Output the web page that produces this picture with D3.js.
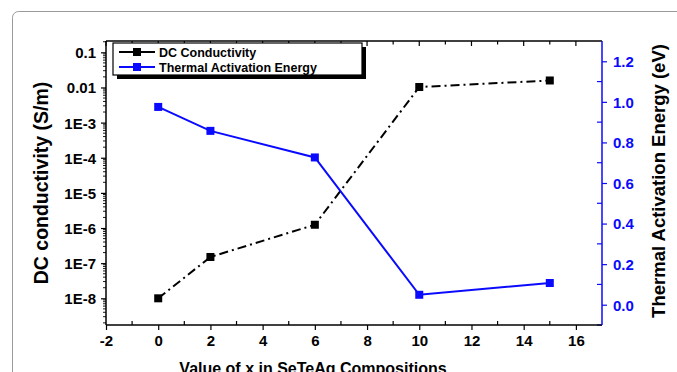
<!DOCTYPE html>
<html>
<head>
<meta charset="utf-8">
<script src="https://cdn.jsdelivr.net/npm/d3@7/dist/d3.min.js"></script>
<style>
  html, body { margin: 0; padding: 0; background: #fff; }
  svg { display: block; font-family: "Liberation Sans", Arial, sans-serif; }
</style>
</head>
<body>
<svg id="chart" width="677" height="372"></svg>
<script>
// Composition x in SeTeAg
const xValues = [0, 2, 6, 10, 15];
// DC conductivity (S/m)
const dcConductivity = [1.0e-8, 1.5e-7, 1.24e-6, 1.03e-2, 1.58e-2];
// Thermal activation energy (eV)
const activationEnergy = [0.975, 0.857, 0.726, 0.049, 0.107];

const xTicks = [-2, 0, 2, 4, 6, 8, 10, 12, 14, 16];
const leftTicks = [1e-8, 1e-7, 1e-6, 1e-5, 1e-4, 1e-3, 1e-2, 1e-1];
const leftTickLabels = ["1E-8", "1E-7", "1E-6", "1E-5", "1E-4", "1E-3", "0.01", "0.1"];
const rightTicks = [0.0, 0.2, 0.4, 0.6, 0.8, 1.0, 1.2];
const seriesNames = ["DC Conductivity", "Thermal Activation Energy"];

const svg = d3.select("#chart");
const blue = "#0a0aff";
const plot = { left: 106, right: 602, top: 41, bottom: 325 };

// Outer figure frame
svg.append("rect")
  .attr("x", 12.5).attr("y", 11.5)
  .attr("width", 700).attr("height", 400)
  .attr("rx", 6)
  .attr("fill", "none").attr("stroke", "#9a9a9a").attr("stroke-width", 1);

const x = d3.scaleLinear().domain([-2, 17]).range([plot.left, plot.right]);
const yLog = d3.scaleLog().domain([1.74e-9, 0.21]).range([plot.bottom, plot.top]);
const yLin = d3.scaleLinear().domain([-0.1, 1.3]).range([plot.bottom, plot.top]);

// Minor tick values
const xMinor = d3.range(-1, 17, 2);
const leftMinor = [];
for (let e = -9; e <= -1; e++) {
  for (let m = 2; m <= 9; m++) {
    const v = m * Math.pow(10, e);
    if (v >= yLog.domain()[0] && v <= yLog.domain()[1]) leftMinor.push(v);
  }
}
const rightMinor = [-0.1, 0.1, 0.3, 0.5, 0.7, 0.9, 1.1];

function styleAxis(g, color) {
  g.select(".domain").remove();
  g.selectAll("line").attr("stroke", color).attr("stroke-width", 1.2);
  g.selectAll("text")
    .attr("fill", color)
    .style("font-size", "15px")
    .style("font-weight", "bold");
}

// Bottom axis: major ticks outward, minor inward
const gBottom = svg.append("g").attr("transform", `translate(0,${plot.bottom})`);
gBottom.call(d3.axisBottom(x).tickValues(xTicks).tickFormat(d => String(d)).tickSize(5).tickPadding(5));
styleAxis(gBottom, "#000");
gBottom.selectAll(".minor").data(xMinor).enter().append("line")
  .attr("x1", d => x(d)).attr("x2", d => x(d))
  .attr("y1", 0).attr("y2", -4)
  .attr("stroke", "#000").attr("stroke-width", 1.2);

// Top axis: ticks inward
const gTop = svg.append("g").attr("transform", `translate(0,${plot.top})`);
gTop.selectAll(".t").data(xTicks.concat(xMinor)).enter().append("line")
  .attr("x1", d => x(d)).attr("x2", d => x(d))
  .attr("y1", 0).attr("y2", d => (xTicks.includes(d) ? 5 : 3.5))
  .attr("stroke", "#000").attr("stroke-width", 1.2);

// Left log axis
const gLeft = svg.append("g").attr("transform", `translate(${plot.left},0)`);
gLeft.call(d3.axisLeft(yLog).tickValues(leftTicks)
  .tickFormat((d, i) => leftTickLabels[i]).tickSize(5).tickPadding(5));
styleAxis(gLeft, "#000");
gLeft.selectAll("text").attr("dy", "0.36em");
gLeft.selectAll(".minor").data(leftMinor).enter().append("line")
  .attr("x1", 0).attr("x2", -3)
  .attr("y1", d => yLog(d)).attr("y2", d => yLog(d))
  .attr("stroke", "#000").attr("stroke-width", 0.9);

// Right linear axis (blue)
const gRight = svg.append("g").attr("transform", `translate(${plot.right},0)`);
gRight.call(d3.axisRight(yLin).tickValues(rightTicks)
  .tickFormat(d3.format(".1f")).tickSize(5).tickPadding(6));
styleAxis(gRight, blue);
gRight.selectAll("text").attr("dy", "0.36em");
gRight.selectAll(".minor").data(rightMinor).enter().append("line")
  .attr("x1", 0).attr("x2", -5)
  .attr("y1", d => yLin(d)).attr("y2", d => yLin(d))
  .attr("stroke", blue).attr("stroke-width", 1.2);

// Axis lines
svg.append("line").attr("x1", plot.left).attr("x2", plot.right)
  .attr("y1", plot.bottom).attr("y2", plot.bottom)
  .attr("stroke", "#000").attr("stroke-width", 1.5);
svg.append("line").attr("x1", plot.left).attr("x2", plot.right)
  .attr("y1", plot.top).attr("y2", plot.top)
  .attr("stroke", "#000").attr("stroke-width", 1.5);
svg.append("line").attr("x1", plot.left).attr("x2", plot.left)
  .attr("y1", plot.top).attr("y2", plot.bottom)
  .attr("stroke", "#000").attr("stroke-width", 1.5);
svg.append("line").attr("x1", plot.right).attr("x2", plot.right)
  .attr("y1", plot.top).attr("y2", plot.bottom)
  .attr("stroke", blue).attr("stroke-width", 1.5);

// DC conductivity series (dash-dot)
const dcData = xValues.map((v, i) => [v, dcConductivity[i]]);
svg.append("path")
  .datum(dcData)
  .attr("d", d3.line().x(d => x(d[0])).y(d => yLog(d[1])))
  .attr("fill", "none").attr("stroke", "#000").attr("stroke-width", 2)
  .attr("stroke-dasharray", "9,4,2,4");
svg.selectAll(".dcpt").data(dcData).enter().append("rect")
  .attr("x", d => x(d[0]) - 4).attr("y", d => yLog(d[1]) - 4)
  .attr("width", 8).attr("height", 8).attr("fill", "#000");

// Activation energy series (solid blue)
const eaData = xValues.map((v, i) => [v, activationEnergy[i]]);
svg.append("path")
  .datum(eaData)
  .attr("d", d3.line().x(d => x(d[0])).y(d => yLin(d[1])))
  .attr("fill", "none").attr("stroke", blue).attr("stroke-width", 2);
svg.selectAll(".eapt").data(eaData).enter().append("rect")
  .attr("x", d => x(d[0]) - 4).attr("y", d => yLin(d[1]) - 4)
  .attr("width", 8).attr("height", 8).attr("fill", blue);

// Legend with drop shadow
const lg = { x: 113, y: 43, w: 249, h: 32 };
svg.append("rect").attr("x", lg.x + 4).attr("y", lg.y + 4)
  .attr("width", lg.w).attr("height", lg.h).attr("fill", "#000");
svg.append("rect").attr("x", lg.x).attr("y", lg.y)
  .attr("width", lg.w).attr("height", lg.h)
  .attr("fill", "#fff").attr("stroke", "#000").attr("stroke-width", 1.2);
const legendColors = ["#000", blue];
seriesNames.forEach((name, i) => {
  const yy = lg.y + 9 + i * 15;
  svg.append("line").attr("x1", lg.x + 6).attr("x2", lg.x + 42)
    .attr("y1", yy).attr("y2", yy)
    .attr("stroke", legendColors[i]).attr("stroke-width", 1.8);
  svg.append("rect").attr("x", lg.x + 20).attr("y", yy - 4)
    .attr("width", 8).attr("height", 8).attr("fill", legendColors[i]);
  svg.append("text").attr("x", lg.x + 46).attr("y", yy)
    .attr("dy", "0.36em")
    .style("font-size", "12.5px").style("font-weight", "bold")
    .text(name);
});

// Axis titles
svg.append("text")
  .attr("transform", `translate(48,${(plot.top + plot.bottom) / 2}) rotate(-90)`)
  .attr("text-anchor", "middle")
  .style("font-size", "19.5px").style("font-weight", "bold")
  .text("DC conductivity (S/m)");
svg.append("text")
  .attr("transform", `translate(665,${(plot.top + plot.bottom) / 2 - 2}) rotate(-90)`)
  .attr("text-anchor", "middle")
  .style("font-size", "18.5px").style("font-weight", "bold")
  .text("Thermal Activation Energy (eV)");
svg.append("text")
  .attr("x", 313).attr("y", 374)
  .attr("text-anchor", "middle")
  .style("font-size", "16px").style("font-weight", "bold")
  .text("Value of x in SeTeAg Compositions");
</script>
</body>
</html>
